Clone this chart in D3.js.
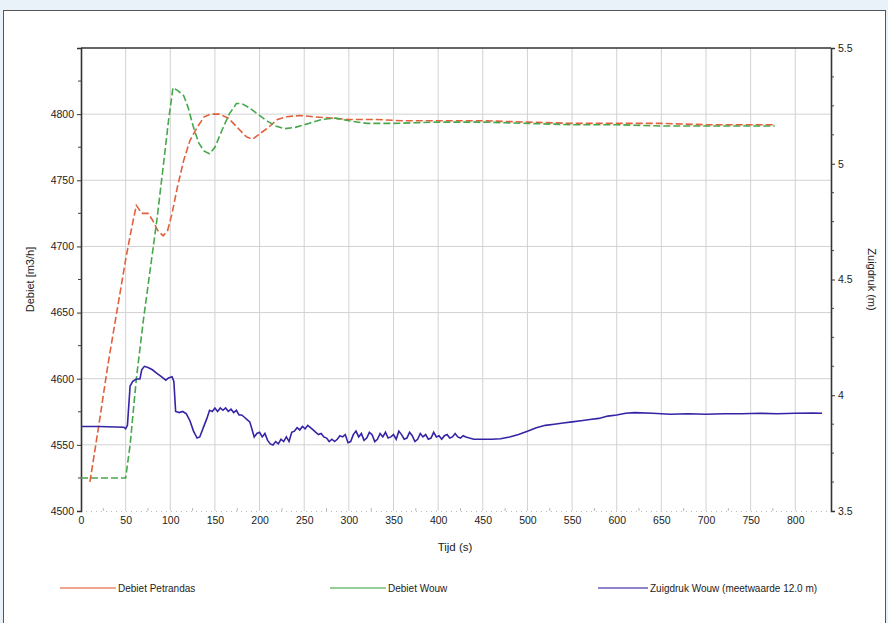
<!DOCTYPE html>
<html><head><meta charset="utf-8">
<script src="https://cdn.jsdelivr.net/npm/d3@7"></script>
<style>
html,body{margin:0;padding:0;background:#e9f1f9;}
svg{display:block;font-family:"Liberation Sans",Arial,sans-serif;}
</style></head>
<body>
<svg id="c" width="888" height="623"></svg>
<script>
const xTicks = [0,50,100,150,200,250,300,350,400,450,500,550,600,650,700,750,800];
const leftTicks = [4500,4550,4600,4650,4700,4750,4800];
const rightTicks = [3.5,4,4.5,5,5.5];
const seriesNames = ["Debiet Petrandas", "Debiet Wouw", "Zuigdruk Wouw (meetwaarde 12.0 m)"];

const debietA = [[10,4522],[20,4565],[30,4610],[40,4650],[50,4690],[57,4715],[62,4731],[68,4725],[75,4725],[80,4720],[86,4712],[92,4708],[97,4712],[102,4725],[108,4745],[115,4765],[122,4780],[130,4790],[138,4798],[145,4800],[155,4800],[165,4797],[175,4790],[185,4783],[192,4781],[200,4785],[210,4790],[220,4796],[230,4798],[245,4799],[260,4798],[280,4797],[300,4796],[330,4796],[360,4795],[400,4795],[450,4795],[500,4794],[550,4793],[600,4793],[650,4793],[700,4792],[750,4792],[777,4792]];

const debietWouw = [[0,4525],[50,4525],[55,4550],[62,4600],[70,4645],[78,4685],[85,4720],[92,4760],[98,4795],[103,4820],[108,4818],[115,4814],[120,4805],[126,4790],[132,4778],[138,4772],[144,4770],[150,4775],[158,4788],[166,4800],[174,4808],[180,4808],[188,4805],[198,4800],[208,4795],[218,4791],[228,4789],[240,4790],[255,4793],[270,4796],[285,4797],[300,4795],[320,4793],[350,4793],[400,4794],[450,4794],[500,4793],[550,4792],[600,4792],[650,4791],[700,4791],[750,4791],[777,4791]];

const zuigdruk = [[0,3.865],[20,3.865],[48,3.862],[50,3.855],[52,3.87],[55,4.04],[58,4.06],[62,4.07],[66,4.07],[68,4.11],[71,4.125],[75,4.12],[80,4.11],[85,4.095],[90,4.08],[95,4.065],[98,4.075],[102,4.08],[104,4.06],[106,3.93],[110,3.925],[114,3.93],[118,3.92],[122,3.89],[126,3.845],[130,3.815],[133,3.82],[137,3.86],[141,3.9],[144,3.935],[147,3.93],[150,3.945],[153,3.93],[156,3.945],[159,3.935],[162,3.945],[165,3.93],[168,3.94],[171,3.925],[174,3.935],[177,3.915],[180,3.915],[183,3.905],[186,3.895],[189,3.885],[191,3.86],[194,3.82],[197,3.835],[200,3.84],[203,3.82],[206,3.835],[209,3.805],[212,3.79],[215,3.785],[218,3.8],[221,3.79],[224,3.81],[227,3.8],[230,3.82],[233,3.8],[236,3.84],[239,3.845],[242,3.86],[245,3.85],[248,3.865],[251,3.855],[254,3.87],[257,3.86],[260,3.85],[263,3.84],[266,3.83],[269,3.835],[272,3.82],[275,3.815],[278,3.8],[281,3.81],[284,3.8],[287,3.81],[290,3.825],[293,3.82],[296,3.83],[299,3.795],[302,3.8],[305,3.83],[308,3.845],[311,3.82],[314,3.835],[317,3.805],[320,3.815],[323,3.84],[326,3.83],[329,3.8],[332,3.81],[335,3.835],[338,3.82],[341,3.84],[344,3.815],[347,3.82],[350,3.83],[353,3.81],[356,3.845],[359,3.83],[362,3.81],[365,3.815],[368,3.84],[371,3.825],[374,3.8],[377,3.81],[380,3.835],[383,3.82],[386,3.83],[389,3.81],[392,3.815],[395,3.84],[398,3.82],[401,3.825],[404,3.81],[407,3.825],[410,3.83],[413,3.815],[416,3.82],[419,3.835],[422,3.82],[425,3.815],[428,3.825],[431,3.82],[435,3.815],[440,3.81],[450,3.81],[460,3.81],[470,3.812],[480,3.82],[490,3.83],[500,3.845],[510,3.86],[520,3.87],[530,3.875],[540,3.88],[550,3.885],[560,3.89],[570,3.895],[580,3.9],[590,3.91],[600,3.915],[610,3.922],[620,3.925],[640,3.922],[660,3.918],[680,3.92],[700,3.918],[720,3.92],[740,3.92],[760,3.922],[780,3.92],[800,3.922],[820,3.923],[830,3.922]];

const colors = ["#e2603c","#46a84a","#3424a6"];

const svg = d3.select("#c");
// white panel
svg.append("rect").attr("x",3.5).attr("y",10.5).attr("width",882).attr("height",620)
  .attr("fill","#fff").attr("stroke","#555").attr("stroke-width",1);

const L=81, R=831, T=48, B=511;
const x = d3.scaleLinear().domain([0,840]).range([L,R]);
const yL = d3.scaleLinear().domain([4500,4850]).range([B,T]);
const yR = d3.scaleLinear().domain([3.5,5.5]).range([B,T]);

// grid
const g = svg.append("g");
g.selectAll(".vg").data(xTicks.filter(d=>d>0)).enter().append("line")
  .attr("x1",d=>x(d)).attr("x2",d=>x(d)).attr("y1",T).attr("y2",B)
  .attr("stroke","#d2d2d2").attr("stroke-width",1);
g.selectAll(".hg").data(leftTicks.filter(d=>d>4500)).enter().append("line")
  .attr("x1",L).attr("x2",R).attr("y1",d=>yL(d)).attr("y2",d=>yL(d))
  .attr("stroke","#d2d2d2").attr("stroke-width",1);

// bottom dotted axis line
svg.append("line").attr("x1",L).attr("x2",R).attr("y1",B+0.5).attr("y2",B+0.5)
  .attr("stroke","#bbb").attr("stroke-dasharray","1,4");

// axes
const axL = d3.axisLeft(yL).tickValues(leftTicks).tickSize(4).tickFormat(d3.format("d"));
const gL = svg.append("g").attr("transform",`translate(${L},0)`).call(axL);
gL.selectAll(".tick").filter(d=>d===4850).remove();
const minorL = d3.range(4525,4850,50);
svg.append("g").selectAll("line").data(minorL).enter().append("line")
  .attr("x1",L-3).attr("x2",L).attr("y1",d=>yL(d)).attr("y2",d=>yL(d)).attr("stroke","#444");

const axR = d3.axisRight(yR).tickValues(rightTicks).tickSize(4).tickFormat(d=>String(d));
const gR = svg.append("g").attr("transform",`translate(${R},0)`).call(axR);
const minorR = d3.range(3.625,5.5,0.125).filter(v=>Math.abs(v*2-Math.round(v*2))>1e-6);
svg.append("g").selectAll("line").data(minorR).enter().append("line")
  .attr("x1",R).attr("x2",R+3).attr("y1",d=>yR(d)).attr("y2",d=>yR(d)).attr("stroke","#444");

const axB = d3.axisBottom(x).tickValues(xTicks).tickSize(0).tickPadding(6).tickFormat(d3.format("d"));
const gB = svg.append("g").attr("transform",`translate(0,${B})`).call(axB);
gB.select(".domain").remove();
// minor x ticks dots
svg.append("g").selectAll("line").data(xTicks.slice(0,-1).map(d=>d+25)).enter().append("line")
  .attr("x1",d=>x(d)).attr("x2",d=>x(d)).attr("y1",B-3).attr("y2",B).attr("stroke","#bbb");

[gL,gR].forEach(a=>{a.select(".domain").attr("stroke","#333").attr("stroke-width",1.6);
  a.selectAll(".tick line").attr("stroke","#333");});
[gL,gR,gB].forEach(a=>a.selectAll("text").attr("font-size",10.5).attr("fill","#222")
  .attr("font-family","'Liberation Sans',Arial,sans-serif"));
// top border
svg.append("line").attr("x1",L).attr("x2",R).attr("y1",T).attr("y2",T).attr("stroke","#333").attr("stroke-width",1.6);

// lines
const lineL = d3.line().x(d=>x(d[0])).y(d=>yL(d[1]));
const lineR = d3.line().x(d=>x(d[0])).y(d=>yR(d[1]));
svg.append("path").datum(debietA).attr("d",lineL).attr("fill","none")
  .attr("stroke",colors[0]).attr("stroke-width",1.6).attr("stroke-dasharray","7,3");
svg.append("path").datum(debietWouw).attr("d",lineL).attr("fill","none")
  .attr("stroke",colors[1]).attr("stroke-width",1.6).attr("stroke-dasharray","7,3");
svg.append("path").datum(zuigdruk).attr("d",lineR).attr("fill","none")
  .attr("stroke",colors[2]).attr("stroke-width",1.6);

// axis titles
svg.append("text").attr("transform",`translate(34,${(T+B)/2}) rotate(-90)`)
  .attr("text-anchor","middle").attr("font-size",11).attr("fill","#222").text("Debiet [m3/h]");
svg.append("text").attr("transform",`translate(868,${(T+B)/2}) rotate(90)`)
  .attr("text-anchor","middle").attr("font-size",11).attr("fill","#222").text("Zuigdruk (m)");
svg.append("text").attr("x",455).attr("y",551).attr("text-anchor","middle")
  .attr("font-size",11.5).attr("fill","#222").text("Tijd (s)");

// legend
const legX = [[60,118],[330,388],[598,650]];
seriesNames.forEach((n,i)=>{
  svg.append("line").attr("x1",legX[i][0]).attr("x2",legX[i][1]-2).attr("y1",588).attr("y2",588)
    .attr("stroke",colors[i]).attr("stroke-width",1.4).attr("opacity",0.75);
  svg.append("text").attr("x",legX[i][1]).attr("y",592).attr("font-size",10)
    .attr("fill","#222").text(n);
});
</script>
</body></html>
